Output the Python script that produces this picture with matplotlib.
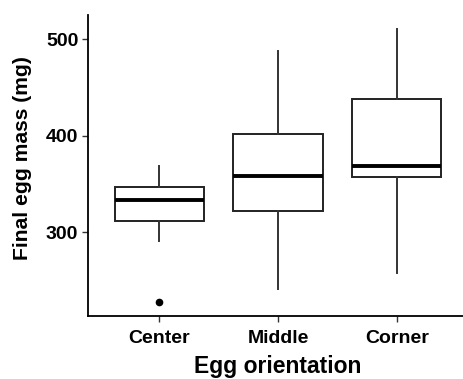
import matplotlib.pyplot as plt

plt.rcParams['font.family'] = ['Liberation Sans', 'DejaVu Sans']

groups = ["Center", "Middle", "Corner"]
q1 = [311.5, 321.5, 357]
med = [333.5, 358.5, 368]
q3 = [347, 402, 438]
whis_lo = [290.5, 241, 257.5]
whis_hi = [368, 488, 510.5]
fliers = [[227.5], [], []]

stats = []
for i in range(len(groups)):
    stats.append({"label": groups[i], "q1": q1[i], "med": med[i], "q3": q3[i],
                  "whislo": whis_lo[i], "whishi": whis_hi[i], "fliers": fliers[i]})

fig = plt.figure(figsize=(4.64, 3.79), dpi=100)
ax = fig.add_axes([88 / 464, 1 - 316 / 379, 380 / 464, 301 / 379])

ax.bxp(stats, positions=[1, 2, 3], widths=0.75, showcaps=False, patch_artist=True,
       boxprops=dict(facecolor='white', edgecolor='#222222', linewidth=1.4),
       medianprops=dict(color='black', linewidth=2.8, solid_capstyle='butt'),
       whiskerprops=dict(color='#333333', linewidth=1.4),
       flierprops=dict(marker='o', markerfacecolor='black', markeredgecolor='black', markersize=4.5))

ax.set_xlim(0.4, 3.6)
ax.set_ylim(213, 525)
ax.set_yticks([300, 400, 500])
ax.set_xticks([1, 2, 3])
ax.set_xticklabels(groups)

for s in ['top', 'right']:
    ax.spines[s].set_visible(False)
for s in ['left', 'bottom']:
    ax.spines[s].set_linewidth(1.3)
    ax.spines[s].set_color('black')

ax.tick_params(axis='both', length=4, width=1.0, color='#333333', labelsize=14, pad=3)
ax.tick_params(axis='x', pad=6)
for lab in ax.get_xticklabels() + ax.get_yticklabels():
    lab.set_fontweight('bold')
    lab.set_color('black')

ax.set_xlabel("Egg orientation", fontsize=16.5, fontweight='bold', labelpad=6)
ax.set_ylabel("Final egg mass (mg)", fontsize=15.2, fontweight='bold', va='center')
ax.yaxis.set_label_coords(-0.172, 0.525)

fig.savefig("out.png", dpi=100)
